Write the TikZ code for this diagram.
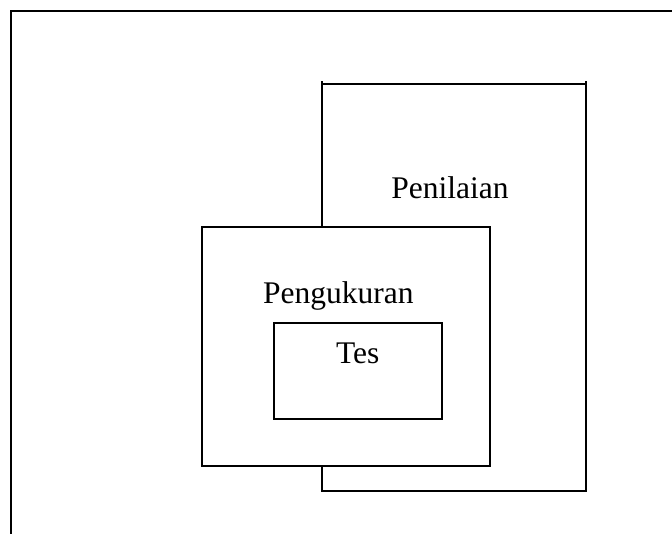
\documentclass[tikz,border=0pt]{standalone}
\usepackage{fontspec}
\setmainfont{Liberation Serif}
\begin{document}
\begin{tikzpicture}[x=1pt,y=-1pt,
  boxstyle/.style={draw=black,line width=1.5pt,fill=white,inner sep=0pt,outer sep=0pt},
  labelstyle/.style={anchor=base,inner sep=0pt,font=\fontsize{31.5}{38}\selectfont}]
\useasboundingbox (0,0) rectangle (672,534);
\coordinate (fbl) at (10.7,534);
\coordinate (ftl) at (10.7,11);
\coordinate (ftr) at (672,11);
\draw[line width=2pt] (fbl) -- (ftl) -- (ftr);
\node[boxstyle,minimum width=264pt,minimum height=407pt] (pen) at (454,287.5) {};
\draw[line width=1.5pt] (pen.north west) -- ++(0,-2.5);
\draw[line width=1.5pt] (pen.north east) -- ++(0,-2.5);
\node[boxstyle,minimum width=288pt,minimum height=239pt] (peng) at (346,346.5) {};
\node[boxstyle,minimum width=168pt,minimum height=96pt] (tes) at (358,371) {};
\node[labelstyle] (penl) at (450,198.3) {Penilaian};
\node[labelstyle] (pengl) at (338.3,303.3) {Pengukuran};
\node[labelstyle] (tesl) at (357.7,363.3) {Tes};
\end{tikzpicture}
\end{document}
